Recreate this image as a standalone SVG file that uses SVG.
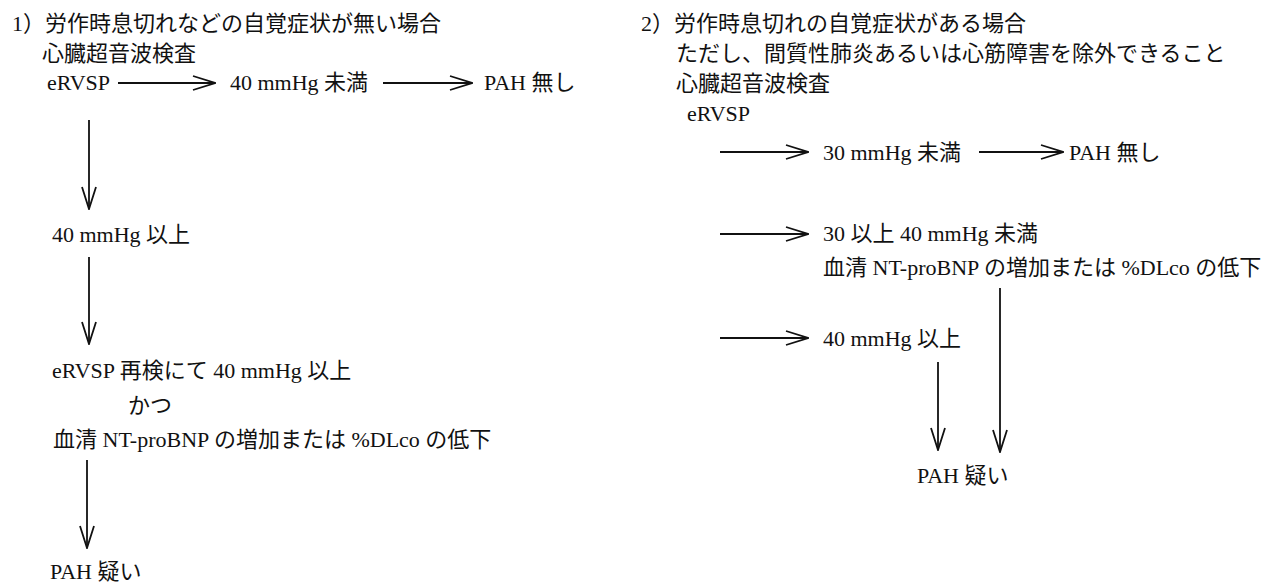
<svg xmlns="http://www.w3.org/2000/svg" width="1275" height="582" viewBox="0 0 1275 582">
<style>
text{font-family:"Liberation Serif","Noto Sans CJK JP",serif;font-size:22px;fill:#111}
.c{stroke:#111;stroke-width:1.8;fill:none}
</style>
<defs>
<marker id="ah" viewBox="0 0 24 16" refX="23" refY="8" markerWidth="24" markerHeight="16" markerUnits="userSpaceOnUse" orient="auto">
<polyline points="1,1 23,8 1,15" fill="none" stroke="#111" stroke-width="1.8"/>
</marker>
</defs>
<rect width="1275" height="582" fill="#fff"/>
<g id="left-title"><text x="12" y="31">1）労作時息切れなどの自覚症状が無い場合</text><text x="42" y="61">心臓超音波検査</text></g>
<g id="l-ervsp"><text x="47" y="90">eRVSP</text></g>
<g id="l-lt40"><text x="230" y="90">40 mmHg 未満</text></g>
<g id="l-nopah"><text x="484" y="90">PAH 無し</text></g>
<g id="l-ge40"><text x="52" y="242">40 mmHg 以上</text></g>
<g id="l-recheck"><text x="52" y="378">eRVSP 再検にて 40 mmHg 以上</text><text x="128" y="413">かつ</text><text x="53" y="447">血清 NT-proBNP の増加または %DLco の低下</text></g>
<g id="l-pah"><text x="50" y="579">PAH 疑い</text></g>
<g id="right-title"><text x="641" y="31">2）労作時息切れの自覚症状がある場合</text><text x="676" y="61">ただし、間質性肺炎あるいは心筋障害を除外できること</text><text x="676" y="91">心臓超音波検査</text></g>
<g id="r-ervsp"><text x="687" y="121">eRVSP</text></g>
<g id="r-lt30"><text x="823" y="160">30 mmHg 未満</text></g>
<g id="r-nopah"><text x="1069" y="160">PAH 無し</text></g>
<g id="r-30to40"><text x="823" y="241">30 以上 40 mmHg 未満</text><text x="823" y="275">血清 NT-proBNP の増加または %DLco の低下</text></g>
<g id="r-ge40"><text x="823" y="346">40 mmHg 以上</text></g>
<g id="r-pah"><text x="917" y="483">PAH 疑い</text></g>
<g id="connectors" class="c">
<line x1="118" y1="83" x2="215" y2="83" marker-end="url(#ah)"/>
<line x1="383" y1="83" x2="472" y2="83" marker-end="url(#ah)"/>
<line x1="89" y1="120" x2="89" y2="209" marker-end="url(#ah)"/>
<line x1="89" y1="257" x2="89" y2="344" marker-end="url(#ah)"/>
<line x1="87" y1="460" x2="87" y2="548" marker-end="url(#ah)"/>
<line x1="720" y1="152" x2="808" y2="152" marker-end="url(#ah)"/>
<line x1="979" y1="152" x2="1063" y2="152" marker-end="url(#ah)"/>
<line x1="720" y1="234" x2="808" y2="234" marker-end="url(#ah)"/>
<line x1="720" y1="338" x2="808" y2="338" marker-end="url(#ah)"/>
<line x1="1000" y1="288" x2="1000" y2="452" marker-end="url(#ah)"/>
<line x1="938" y1="362" x2="938" y2="450" marker-end="url(#ah)"/>
</g>
</svg>
